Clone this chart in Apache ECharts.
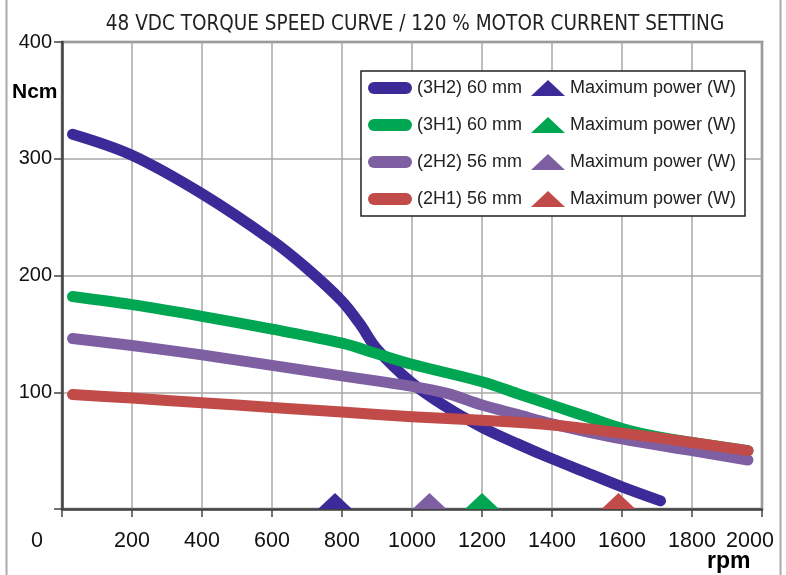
<!DOCTYPE html>
<html>
<head>
<meta charset="utf-8">
<script src="https://cdn.jsdelivr.net/npm/echarts@6/dist/echarts.min.js"></script>
<style>
  html, body { margin: 0; padding: 0; background: #fff; }
  #chart { width: 786px; height: 575px; }
</style>
</head>
<body>
<div id="chart"></div>
<script>
// series names
const curveNames = ['(3H2) 60 mm', '(3H1) 60 mm', '(2H2) 56 mm', '(2H1) 56 mm'];
const curveColors = ['#3c2a98', '#00a651', '#7e60a2', '#c04b48'];

// torque curves [rpm, Ncm]
const curve3H2 = [[30, 321], [200, 303], [400, 270], [600, 230], [700, 206], [800, 178], [850, 159], [900, 137],
  [1000, 108], [1100, 87], [1200, 70], [1300, 56], [1400, 43], [1500, 31], [1600, 19], [1710, 7]];
const curve3H1 = [[30, 182], [200, 175], [400, 165], [600, 154], [800, 142], [900, 133], [1000, 124], [1200, 109],
  [1300, 99], [1400, 89], [1500, 79], [1600, 69], [1700, 62], [1800, 57], [1960, 50]];
const curve2H2 = [[30, 146], [200, 140], [400, 132], [600, 123], [800, 114], [1000, 105], [1100, 99],
  [1200, 89], [1300, 81], [1400, 73], [1600, 60], [1800, 50], [1960, 42]];
const curve2H1 = [[30, 98], [200, 95], [400, 91], [600, 87], [800, 83], [1000, 79], [1200, 76],
  [1400, 72], [1600, 65], [1800, 57], [1960, 50]];
const curves = [curve3H2, curve3H1, curve2H2, curve2H1];

// rpm of maximum power, same order as curves
const maxPowerRpm = [780, 1200, 1050, 1590];
const maxPowerLabel = 'Maximum power (W)';

const xTicks = { min: 0, max: 2000, interval: 200 };
const yTicks = { min: 0, max: 400, interval: 100 };

const chart = echarts.init(document.getElementById('chart'));

const pill = 'path://M6,0 H38 A6,6 0 0 1 38,12 H6 A6,6 0 0 1 6,0 Z';
const tri = 'path://M0,16 L17,0 L34,16 Z';
// unique legend names for the four triangle series (trimmed in legend)
const triNames = curveNames.map((n, i) => maxPowerLabel + ' '.repeat(i));

const series = [];
curves.forEach((d, i) => {
  series.push({
    name: curveNames[i],
    type: 'line',
    data: d,
    smooth: 0.35,
    showSymbol: false,
    symbol: 'none',
    lineStyle: { color: curveColors[i], width: 11, cap: 'round', join: 'round' },
    itemStyle: { color: curveColors[i] },
    z: 2 + i * 0.1
  });
});
// triangles drawn first so curves stay on top
maxPowerRpm.forEach((r, i) => {
  series.unshift({
    name: triNames[i],
    type: 'scatter',
    data: [[r, 0]],
    symbol: tri,
    symbolSize: [34, 16],
    symbolOffset: [0, '-50%'],
    clip: false,
    itemStyle: { color: curveColors[i], opacity: 1 },
    z: 1
  });
});

const font = 'Liberation Sans, Arial, sans-serif';
const legendText = { fontFamily: font, fontSize: 18, color: '#222', lineHeight: 18 };

chart.setOption({
  backgroundColor: '#fff',
  animation: false,
  title: {
    text: '48 VDC TORQUE SPEED CURVE / 120 % MOTOR CURRENT SETTING',
    left: 410, textAlign: 'center',
    top: 9,
    textStyle: { fontFamily: 'DejaVu Sans Condensed, DejaVu Sans, sans-serif', fontSize: 20.5, fontWeight: 'normal', color: '#222' }
  },
  grid: {
    left: 62, right: 24, top: 42, bottom: 66,
    show: true, borderColor: '#777', borderWidth: 2.5, backgroundColor: 'transparent'
  },
  legend: [
    {
      data: curveNames.map(n => ({ name: n, icon: pill })),
      orient: 'vertical', left: 368, top: 79, padding: 0,
      itemWidth: 44, itemHeight: 13, itemGap: 19,
      itemStyle: { borderWidth: 0 },
      textStyle: legendText,
      selectedMode: false
    },
    {
      data: triNames.map(n => ({ name: n, icon: tri })),
      orient: 'vertical', left: 531, top: 79, padding: 0,
      itemWidth: 34, itemHeight: 16, itemGap: 19,
      itemStyle: { borderWidth: 0 },
      textStyle: legendText,
      formatter: n => n.trim(),
      selectedMode: false
    }
  ],
  xAxis: {
    type: 'value',
    min: xTicks.min, max: xTicks.max, interval: xTicks.interval,
    axisLine: { show: true, lineStyle: { color: '#444', width: 2.5 } },
    axisTick: { show: true, inside: false, length: 8, lineStyle: { color: '#444', width: 1.5 } },
    splitLine: { show: true, lineStyle: { color: '#a8a8a8', width: 1.5 } },
    axisLabel: {
      margin: 21,
      fontFamily: font, fontSize: 21.5, color: '#111',
      formatter: v => v === 0 ? '{z|0}' : (v === 2000 ? '{e|2000}' : String(v)),
      rich: {
        z: { fontFamily: font, fontSize: 21.5, color: '#111', padding: [0, 50, 0, 0] },
        e: { fontFamily: font, fontSize: 21.5, color: '#111', padding: [0, 24, 0, 0] }
      }
    }
  },
  yAxis: {
    type: 'value',
    min: yTicks.min, max: yTicks.max, interval: yTicks.interval,
    axisLine: { show: true, lineStyle: { color: '#444', width: 2.5 } },
    axisTick: { show: true, inside: false, length: 8, lineStyle: { color: '#444', width: 1.5 } },
    splitLine: { show: true, lineStyle: { color: '#a8a8a8', width: 1.5 } },
    axisLabel: {
      margin: 10,
      fontFamily: font, fontSize: 20, color: '#111',
      formatter: v => v === 0 ? '' : String(v)
    }
  },
  graphic: [
    { type: 'line', shape: { x1: 6.5, y1: 0, x2: 6.5, y2: 575 }, style: { stroke: '#aaa', lineWidth: 2 }, z: 0 },
    { type: 'line', shape: { x1: 780.5, y1: 0, x2: 780.5, y2: 575 }, style: { stroke: '#aaa', lineWidth: 2 }, z: 0 },
    { type: 'rect', shape: { x: 361, y: 71, width: 384, height: 145 },
      style: { fill: '#fff', stroke: '#222', lineWidth: 1.5 }, z: 3 },
    { type: 'text', left: 12, top: 82,
      style: { text: 'Ncm', font: 'bold 21px Liberation Sans, Arial, sans-serif', fill: '#000' } },
    { type: 'text', left: 707, top: 550,
      style: { text: 'rpm', font: 'bold 23px Liberation Sans, Arial, sans-serif', fill: '#000' } }
  ],
  series: series
});
</script>
</body>
</html>
